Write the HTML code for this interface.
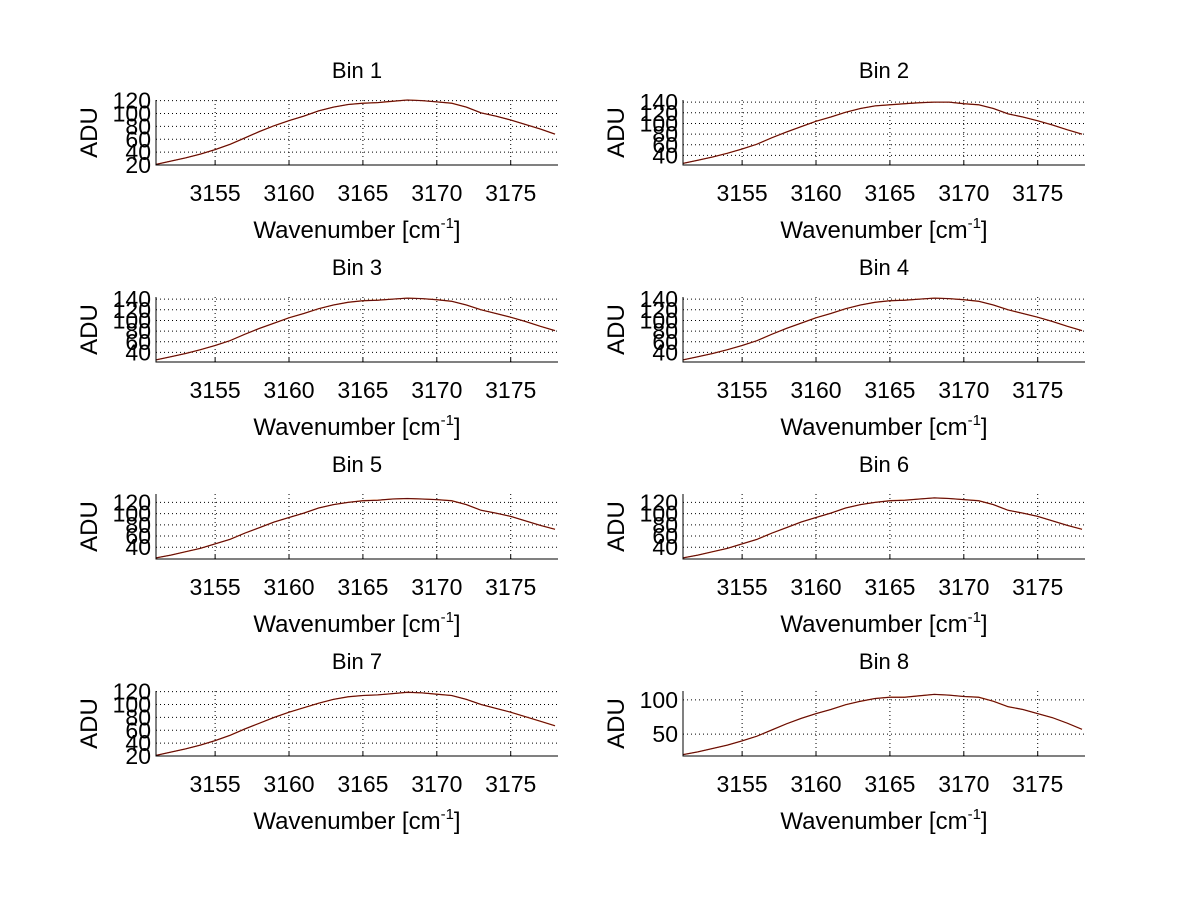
<!DOCTYPE html>
<html><head><meta charset="utf-8"><style>
body{margin:0;background:#fff;width:1200px;height:901px;overflow:hidden}
svg text{font-family:"Liberation Sans",sans-serif;fill:#000}
</style></head><body>
<svg id="fig" width="1200" height="901" xmlns="http://www.w3.org/2000/svg"></svg>
<script>
const wavenumbers=[3151,3152,3153,3154,3155,3156,3157,3158,3159,3160,3161,3162,3163,3164,3165,3166,3167,3168,3169,3170,3171,3172,3173,3174,3175,3176,3177,3178];
const bin1=[21,26,31,37,44,52,62,72,81,89,96,104,110,114,116,117,119,121,120,118,116,110,101,96,90,83,76,68];
const bin2=[25,31,37,44,52,61,73,84,94,104,112,121,128,133,135,137,139,140,140,137,135,128,118,112,105,97,88,80];
const bin3=[26,32,38,45,53,62,74,85,95,105,113,122,129,134,137,138,140,142,141,139,136,129,120,113,106,98,89,81];
const bin4=[26,32,38,45,53,62,74,85,95,105,113,122,129,134,137,138,140,142,141,139,136,129,120,113,106,98,89,81];
const bin5=[21,26,32,38,46,54,65,75,85,93,101,110,116,120,123,124,126,127,126,125,123,116,106,101,95,87,79,72];
const bin6=[21,26,32,38,46,54,65,75,85,93,101,110,116,120,123,124,126,128,127,125,123,116,106,101,95,87,79,72];
const bin7=[21,26,31,37,44,52,62,71,80,88,95,102,108,112,114,115,117,119,118,116,114,108,100,94,88,81,74,67];
const bin8=[20,24,29,34,40,47,56,65,73,80,86,93,98,102,104,104,106,108,107,105,104,98,90,86,80,74,66,57];
const xTicks=[3155,3160,3165,3170,3175];
const yTicks=[[20,40,60,80,100,120],[40,60,80,100,120,140],[40,60,80,100,120,140],[40,60,80,100,120,140],[40,60,80,100,120],[40,60,80,100,120],[20,40,60,80,100,120],[50,100]];
const yLims=[[20,121],[22,144],[22,144],[22,144],[19,135],[19,135],[20,121],[18,113]];
const series=[bin1,bin2,bin3,bin4,bin5,bin6,bin7,bin8];

const NS="http://www.w3.org/2000/svg";
const svg=document.getElementById('fig');
function mk(tag,attrs,parent){const e=document.createElementNS(NS,tag);for(const k in attrs)e.setAttribute(k,attrs[k]);(parent||svg).appendChild(e);return e;}
const cols=[156,683], rowsTop=[100,297,494,691], W=402, H=65, xMin=3151, xMax=3178.2;
for(let i=0;i<8;i++){
  const L=cols[i%2], T=rowsTop[Math.floor(i/2)];
  const [y0,y1]=yLims[i];
  const sx=v=>L+(v-xMin)/(xMax-xMin)*W;
  const sy=v=>T+H-(v-y0)/(y1-y0)*H;
  const g=mk('g',{});
  
  
  xTicks.forEach(t=>{const l=mk('line',{x1:sx(t),x2:sx(t),y1:T,y2:T+H,stroke:'#000','stroke-width':1,'stroke-dasharray':'1,3'},g);
    });
  yTicks[i].forEach(t=>{const l=mk('line',{x1:L,x2:L+W,y1:sy(t),y2:sy(t),stroke:'#000','stroke-width':1,'stroke-dasharray':'1,3'},g);
    });
  const pts=wavenumbers.map((w,j)=>sx(w).toFixed(1)+','+sy(series[i][j]).toFixed(1)).join(' ');
  const p1=mk('polyline',{points:pts,fill:'none',stroke:'#e06010','stroke-width':1.3},g);
  
  const p2=mk('polyline',{points:pts,fill:'none',stroke:'#5a0a10','stroke-width':1},g);
  
  const ax=mk('path',{d:`M${L},${T} V${T+H} H${L+W}`,fill:'none',stroke:'#000','stroke-width':1},g);
  
  xTicks.forEach(t=>{
    const tk=mk('line',{x1:sx(t),x2:sx(t),y1:T+H,y2:T+H-4,stroke:'#000'},g);
    
    const tx=mk('text',{x:sx(t),y:T+H+36,'font-size':23,'text-anchor':'middle'},g);tx.textContent=t;
    
  });
  yTicks[i].forEach(t=>{
    const tx=mk('text',{x:L-5,y:sy(t)+8,'font-size':23,'text-anchor':'end'},g);tx.textContent=t;
    
  });
  const ti=mk('text',{x:L+W/2,y:T-22,'font-size':22,'text-anchor':'middle'},g);ti.textContent='Bin '+(i+1);
  
  const xl=mk('text',{x:L+W/2,y:T+H+73,'font-size':24,'text-anchor':'middle'},g);
  xl.innerHTML='Wavenumber [cm<tspan dy="-10" font-size="15">-1</tspan><tspan dy="10">]</tspan>';
  
  const yl=mk('text',{x:0,y:0,'font-size':24,'text-anchor':'middle',transform:`translate(${L-59},${T+H/2}) rotate(-90)`},g);yl.textContent='ADU';
  
}
</script>
</body></html>
